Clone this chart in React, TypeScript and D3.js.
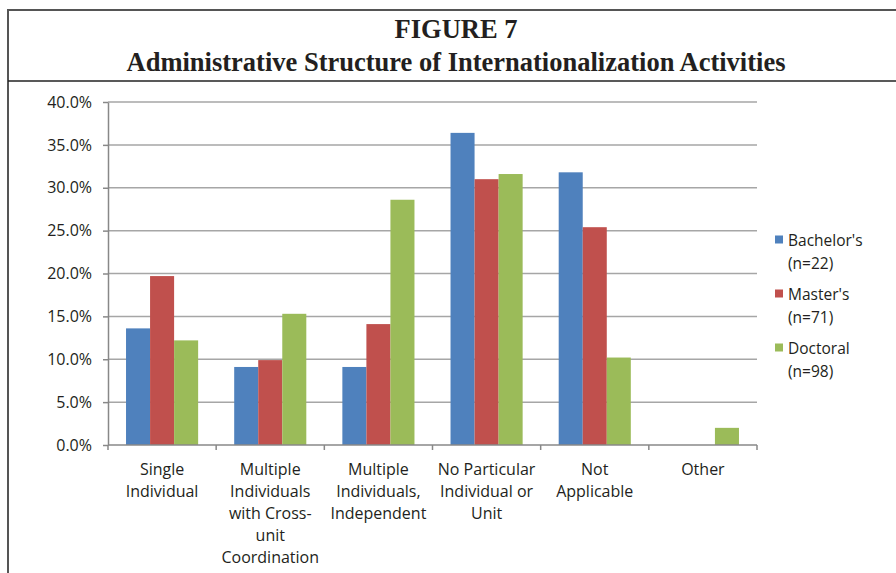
import React, { useEffect, useRef } from 'react';
import * as d3 from 'd3';

const categories = [
  ['Single', 'Individual'],
  ['Multiple', 'Individuals', 'with Cross-', 'unit', 'Coordination'],
  ['Multiple', 'Individuals,', 'Independent'],
  ['No Particular', 'Individual or', 'Unit'],
  ['Not', 'Applicable'],
  ['Other'],
];
const seriesNames = ['Bachelor\'s', 'Master\'s', 'Doctoral'];
const seriesN = ['(n=22)', '(n=71)', '(n=98)'];
const seriesColors = ['#4f81bd', '#c0504d', '#9bbb59'];
const bachelors = [13.6, 9.1, 9.1, 36.4, 31.8, 0];
const masters = [19.7, 9.9, 14.1, 31.0, 25.4, 0];
const doctoral = [12.2, 15.3, 28.6, 31.6, 10.2, 2.0];
const yTicks = [0, 5, 10, 15, 20, 25, 30, 35, 40];

const W = 896;
const H = 573;

const App = () => {
  const svgRef = useRef<SVGSVGElement | null>(null);

  useEffect(() => {
    const svg = d3.select(svgRef.current);
    svg.selectAll('*').remove();

    const font = '"Open Sans", "Noto Sans", sans-serif';
    const left = 108, right = 757, top = 102, bottom = 445;

    // frame + title
    svg.append('path')
      .attr('d', `M8,${H + 5} V10 H${W + 5}`)
      .attr('fill', 'none')
      .attr('stroke', '#555')
      .attr('stroke-width', 2);
    svg.append('line')
      .attr('x1', 8).attr('x2', W + 5)
      .attr('y1', 81).attr('y2', 81)
      .attr('stroke', '#222')
      .attr('stroke-width', 1.5);

    const title = svg.append('text')
      .attr('text-anchor', 'middle')
      .attr('font-family', '"Liberation Serif", "Times New Roman", serif')
      .attr('font-weight', 'bold')
      .attr('font-size', 26.5)
      .attr('fill', '#231f20');
    title.append('tspan').attr('x', 456).attr('y', 38).text('FIGURE 7');
    title.append('tspan').attr('x', 456).attr('y', 71).text('Administrative Structure of Internationalization Activities');

    const x0 = d3.scaleBand<number>()
      .domain(d3.range(categories.length))
      .range([left, right]);
    const x1 = d3.scaleBand<number>()
      .domain([0, 1, 2])
      .range([0, x0.bandwidth()])
      .paddingOuter(0.75);
    const y = d3.scaleLinear().domain([0, 40]).range([bottom, top]);

    // gridlines
    svg.append('g')
      .selectAll('line')
      .data(yTicks.slice(1))
      .join('line')
      .attr('x1', left).attr('x2', right)
      .attr('y1', d => y(d)).attr('y2', d => y(d))
      .attr('stroke', '#a6a6a6')
      .attr('stroke-width', 1.5);

    const series = [bachelors, masters, doctoral];
    series.forEach((vals, si) => {
      svg.append('g')
        .selectAll('rect')
        .data(vals)
        .join('rect')
        .attr('x', (_, i) => (x0(i) as number) + (x1(si) as number))
        .attr('y', d => y(d))
        .attr('width', x1.bandwidth())
        .attr('height', d => bottom - y(d))
        .attr('fill', seriesColors[si]);
    });

    // y axis
    const yAxis = svg.append('g')
      .attr('transform', `translate(${left},0)`)
      .call(d3.axisLeft(y).tickValues(yTicks).tickFormat(d => `${(+d).toFixed(1)}%`).tickSize(5).tickSizeOuter(0));
    yAxis.select('.domain').attr('stroke', '#888').attr('stroke-width', 1.5);
    yAxis.selectAll('.tick line').attr('stroke', '#888').attr('stroke-width', 1.5);
    yAxis.selectAll('.tick text')
      .attr('font-family', font)
      .attr('font-size', 16)
      .attr('fill', '#231f20')
      .attr('x', -16);

    // x axis
    svg.append('line')
      .attr('x1', left).attr('x2', right)
      .attr('y1', bottom).attr('y2', bottom)
      .attr('stroke', '#888').attr('stroke-width', 1.5);
    svg.append('g')
      .selectAll('line')
      .data(d3.range(categories.length + 1))
      .join('line')
      .attr('x1', d => left + d * x0.bandwidth())
      .attr('x2', d => left + d * x0.bandwidth())
      .attr('y1', bottom).attr('y2', bottom + 5)
      .attr('stroke', '#888').attr('stroke-width', 1.5);

    const labels = svg.append('g')
      .attr('font-family', font)
      .attr('font-size', 16)
      .attr('fill', '#231f20')
      .attr('text-anchor', 'middle');
    categories.forEach((lines, i) => {
      const t = labels.append('text');
      lines.forEach((ln, j) => {
        t.append('tspan')
          .attr('x', (x0(i) as number) + x0.bandwidth() / 2)
          .attr('y', 475 + j * 22)
          .text(ln);
      });
    });

    // legend
    const legend = svg.append('g').attr('font-family', font).attr('font-size', 15.5).attr('fill', '#231f20');
    seriesNames.forEach((name, i) => {
      const cy = 240 + i * 54;
      legend.append('rect')
        .attr('x', 775).attr('y', cy - 4.5)
        .attr('width', 8).attr('height', 8)
        .attr('fill', seriesColors[i]);
      legend.append('text').attr('x', 788).attr('y', cy + 5.5).text(name);
      legend.append('text').attr('x', 788).attr('y', cy + 28.5).text(seriesN[i]);
    });
  }, []);

  return (
    <svg
      ref={svgRef}
      width={W}
      height={H}
      style={{ position: 'absolute', left: 0, top: 0, background: '#fff' }}
    />
  );
};

export default App;
